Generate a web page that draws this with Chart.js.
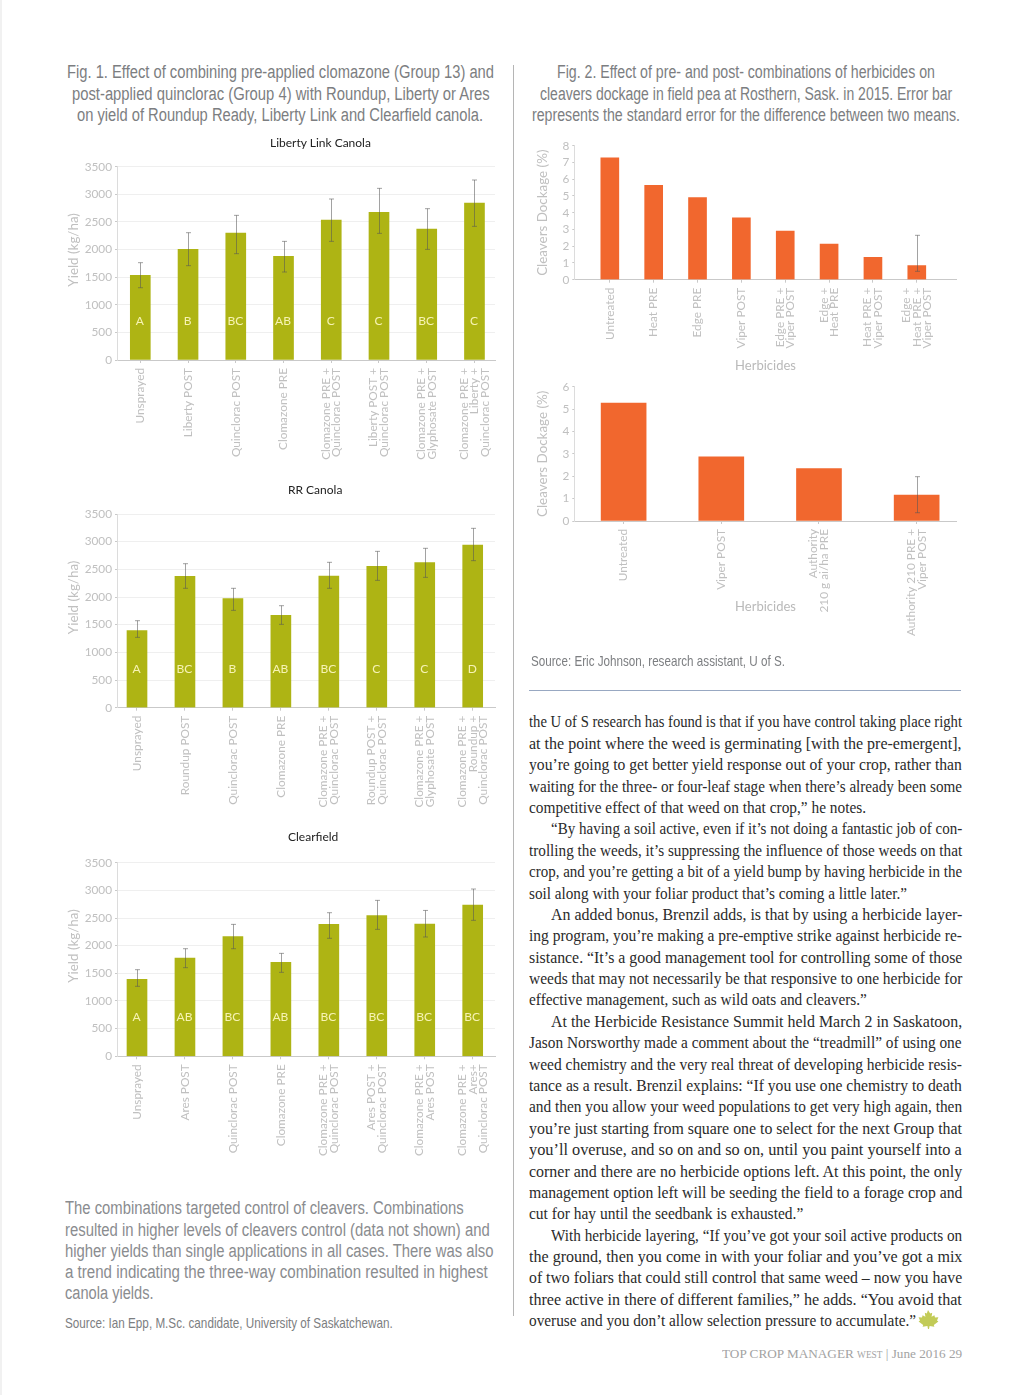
<!DOCTYPE html>
<html>
<head>
<meta charset="utf-8">
<title>Top Crop Manager West, June 2016, p. 29</title>
<script src="https://cdn.jsdelivr.net/npm/chart.js@4"></script>
<style>
  html, body { margin: 0; padding: 0; background: #fff; }
  #page { position: relative; width: 1024px; height: 1395px; overflow: hidden; border-left: 2px solid #f1f1f1; box-sizing: border-box; }
  #page canvas { position: absolute; }
  .line { position: absolute; white-space: nowrap; transform-origin: 0 50%; }
  .cap { font: 18px/22px "Liberation Sans Narrow", "Liberation Sans", sans-serif; color: #7c7e81; }
  .para { font: 18px/22px "Liberation Sans Narrow", "Liberation Sans", sans-serif; color: #8a8c8f; }
  .src { font: 14.5px/18px "Liberation Sans Narrow", "Liberation Sans", sans-serif; color: #7c7e81; }
  .body { font: 16.5px/20px "Liberation Serif", serif; color: #2a2a2a; }
  .foot { font: 13.5px/18px "Liberation Serif", serif; color: #a3a3a3; }
  .foot small { font-size: 9.5px; }
  .chartTitle { font: 12px/16px Lato, sans-serif; color: #222; }
  #vrule { position: absolute; left: 511px; top: 65px; width: 1px; height: 1251px; background: #b5b5b5; }
  #hrule { position: absolute; left: 527px; top: 690px; width: 432px; height: 1px; background: #98a8c2; }
  #leaf { position: absolute; left: 915px; top: 1310px; }
</style>
</head>
<body>
<div id="page">
  <div id="vrule"></div>
  <div id="hrule"></div>
  <svg id="leaf" width="22" height="20" viewBox="0 0 22 20"><path fill="#c2cb57" d="M11 0l2.2 3.6 2-.8-.6 4 2.800-1.600.6 2.200 3.400-.2-1.400 3.400 1.400 1-4.600 3.400.6 1.800-4.800-.8-.6 3h-1l-.6-3-4.800.8.6-1.800L1.600 11.600l1.400-1L1.600 7.200l3.400.2.6-2.200 2.800 1.600-.6-4 2 .8z"/></svg>

  <canvas id="chartLiberty" width="456" height="350" style="left:64px;top:130px"></canvas>
  <canvas id="chartRR" width="456" height="350" style="left:64px;top:477px"></canvas>
  <canvas id="chartClear" width="456" height="350" style="left:64px;top:826px"></canvas>
  <canvas id="chartDock1" width="445" height="250" style="left:533px;top:135px"></canvas>
  <canvas id="chartDock2" width="445" height="270" style="left:533px;top:376px"></canvas>
</div>

<script>
// Fig. 1 data, kg/ha
const libertyLabels = ['Unsprayed', 'Liberty POST', 'Quinclorac POST', 'Clomazone PRE', ['Clomazone PRE +', 'Quinclorac POST'], ['Liberty POST +', 'Quinclorac POST'], ['Clomazone PRE +', 'Glyphosate POST'], ['Clomazone PRE +', 'Liberty +', 'Quinclorac POST']];
const libertyYield = [1533, 2003, 2299, 1877, 2534, 2673, 2371, 2842];
const libertyHigh = [1762, 2305, 2619, 2148, 2915, 3108, 2740, 3259];
const libertyLow = [1309, 1708, 1925, 1593, 2148, 2293, 2003, 2420];
const libertyLetters = ['A', 'B', 'BC', 'AB', 'C', 'C', 'BC', 'C'];

const rrLabels = ['Unsprayed', 'Roundup POST', 'Quinclorac POST', 'Clomazone PRE', ['Clomazone PRE +', 'Quinclorac POST'], ['Roundup POST +', 'Quinclorac POST'], ['Clomazone PRE +', 'Glyphosate POST'], ['Clomazone PRE +', 'Roundup +', 'Quinclorac POST']];
const rrYield = [1392, 2373, 1970, 1669, 2380, 2554, 2620, 2940];
const rrHigh = [1572, 2602, 2157, 1843, 2627, 2825, 2880, 3241];
const rrLow = [1271, 2157, 1759, 1506, 2157, 2301, 2355, 2657];
const rrLetters = ['A', 'BC', 'B', 'AB', 'BC', 'C', 'C', 'D'];

const clearLabels = ['Unsprayed', 'Ares POST', 'Quinclorac POST', 'Clomazone PRE', ['Clomazone PRE +', 'Quinclorac POST'], ['Ares POST +', 'Quinclorac POST'], ['Clomazone PRE +', 'Ares POST'], ['Clomazone PRE +', 'Ares+', 'Quinclorac POST']];
const clearYield = [1392, 1777, 2163, 1699, 2385, 2542, 2391, 2735];
const clearHigh = [1566, 1945, 2385, 1861, 2596, 2819, 2637, 3024];
const clearLow = [1265, 1602, 1945, 1518, 2133, 2295, 2157, 2458];
const clearLetters = ['A', 'AB', 'BC', 'AB', 'BC', 'BC', 'BC', 'BC'];

// Fig. 2 data, % dockage
const dock1Labels = ['Untreated', 'Heat PRE', 'Edge PRE', 'Viper POST', ['Edge PRE +', 'Viper POST'], ['Edge +', 'Heat PRE'], ['Heat PRE +', 'Viper POST'], ['Edge +', 'Heat PRE +', 'Viper POST']];
const dock1Values = [7.28, 5.63, 4.91, 3.7, 2.9, 2.12, 1.33, 0.85];
const dock1High = [null, null, null, null, null, null, null, 2.65];
const dock1Low = [null, null, null, null, null, null, null, 0.5];

const dock2Labels = ['Untreated', 'Viper POST', ['Authority', '210 g ai/ha PRE'], ['Authority 210 PRE +', 'Viper POST']];
const dock2Values = [5.27, 2.87, 2.34, 1.16];
const dock2High = [null, null, null, 1.98];
const dock2Low = [null, null, null, 0.37];

const yieldTicks = [0, 500, 1000, 1500, 2000, 2500, 3000, 3500];
const dock1Ticks = [0, 1, 2, 3, 4, 5, 6, 7, 8];
const dock2Ticks = [0, 1, 2, 3, 4, 5, 6];

const chartTitles = [['Liberty Link Canola', 270, 143], ['RR Canola', 288, 490], ['Clearfield', 288, 837]];

// [class, text, left, right, y centre]
const captionLines = [
  ['cap', 'Fig. 1. Effect of combining pre-applied clomazone (Group 13) and', 66.5, 493.5, 72],
  ['cap', 'post-applied quinclorac (Group 4) with Roundup, Liberty or Ares', 71.5, 489, 93.5],
  ['cap', 'on yield of Roundup Ready, Liberty Link and Clearfield canola.', 77, 483, 115],
  ['cap', 'Fig. 2. Effect of pre- and post- combinations of herbicides on', 557, 935, 72],
  ['cap', 'cleavers dockage in field pea at Rosthern, Sask. in 2015. Error bar', 540, 952, 93.5],
  ['cap', 'represents the standard error for the difference between two means.', 532, 960, 115],
  ['src', 'Source: Eric Johnson, research assistant, U of S.', 531, 785, 661],
  ['para', 'The combinations targeted control of cleavers. Combinations', 64.5, 463, 1208],
  ['para', 'resulted in higher levels of cleavers control (data not shown) and', 64.5, 489, 1229.5],
  ['para', 'higher yields than single applications in all cases. There was also', 64.5, 493, 1251],
  ['para', 'a trend indicating the three-way combination resulted in highest', 64.5, 487, 1272],
  ['para', 'canola yields.', 64.5, 153, 1293],
  ['src', 'Source: Ian Epp, M.Sc. candidate, University of Saskatchewan.', 64.5, 392, 1323],
  ['foot', 'TOP CROP MANAGER <small>WEST</small> | June 2016 29', 722, 962, 1354]
];

const bodyLines = [
  ['the U of S research has found is that if you have control taking place right', 529, 962, 722],
  ['at the point where the weed is germinating [with the pre-emergent],', 529, 962, 744],
  ['you\u2019re going to get better yield response out of your crop, rather than', 529, 962, 765],
  ['waiting for the three- or four-leaf stage when there\u2019s already been some', 529, 962, 786.5],
  ['competitive effect of that weed on that crop,\u201d he notes.', 529, 866, 808],
  ['\u201cBy having a soil active, even if it\u2019s not doing a fantastic job of con-', 551, 962, 829],
  ['trolling the weeds, it\u2019s suppressing the influence of those weeds on that', 529, 962, 850.5],
  ['crop, and you\u2019re getting a bit of a yield bump by having herbicide in the', 529, 962, 872],
  ['soil along with your foliar product that\u2019s coming a little later.\u201d', 529, 907, 893.5],
  ['An added bonus, Brenzil adds, is that by using a herbicide layer-', 551, 962, 915],
  ['ing program, you\u2019re making a pre-emptive strike against herbicide re-', 529, 962, 936],
  ['sistance. \u201cIt\u2019s a good management tool for controlling some of those', 529, 962, 957.5],
  ['weeds that may not necessarily be that responsive to one herbicide for', 529, 962, 979],
  ['effective management, such as wild oats and cleavers.\u201d', 529, 867, 1000],
  ['At the Herbicide Resistance Summit held March 2 in Saskatoon,', 551, 962, 1022],
  ['Jason Norsworthy made a comment about the \u201ctreadmill\u201d of using one', 529, 962, 1043],
  ['weed chemistry and the very real threat of developing herbicide resis-', 529, 962, 1064.5],
  ['tance as a result. Brenzil explains: \u201cIf you use one chemistry to death', 529, 962, 1086],
  ['and then you allow your weed populations to get very high again, then', 529, 962, 1107],
  ['you\u2019re just starting from square one to select for the next Group that', 529, 962, 1129],
  ['you\u2019ll overuse, and so on and so on, until you paint yourself into a', 529, 962, 1150],
  ['corner and there are no herbicide options left. At this point, the only', 529, 962, 1171.5],
  ['management option left will be seeding the field to a forage crop and', 529, 962, 1193],
  ['cut for hay until the seedbank is exhausted.\u201d', 529, 803, 1214],
  ['With herbicide layering, \u201cIf you\u2019ve got your soil active products on', 551, 962, 1235.5],
  ['the ground, then you come in with your foliar and you\u2019ve got a mix', 529, 962, 1257],
  ['of two foliars that could still control that same weed \u2013 now you have', 529, 962, 1278],
  ['three active in there of different families,\u201d he adds. \u201cYou avoid that', 529, 962, 1300],
  ['overuse and you don\u2019t allow selection pressure to accumulate.\u201d', 529, 916, 1321]
];

const page = document.getElementById('page');

// every printed line gets squeezed to the width it has on the page
function placeLine(cls, text, left, right, y) {
  const el = document.createElement('div');
  el.className = 'line ' + cls;
  el.innerHTML = text;
  page.appendChild(el);
  const lineH = parseFloat(getComputedStyle(el).lineHeight);
  el.style.left = (left - 2) + 'px'; // page has a 2px border
  el.style.top = (y - lineH / 2) + 'px';
  el.style.transform = 'scaleX(' + ((right - left) / el.offsetWidth) + ')';
}

captionLines.forEach(l => placeLine(l[0], l[1], l[2], l[3], l[4]));
bodyLines.forEach(l => placeLine('body', l[0], l[1], l[2], l[3]));

chartTitles.forEach(t => {
  const el = document.createElement('div');
  el.className = 'line chartTitle';
  el.textContent = t[0];
  page.appendChild(el);
  el.style.left = (t[1] - 2) + 'px';
  el.style.top = (t[2] - 8) + 'px';
});

const LABEL_FONT = 'Lato, sans-serif';
const LABEL_COLOR = '#c0c0c0';
const TICK_LINE = 10.6;

// whiskers, letters and centring of the multi-line tick labels
const barExtras = {
  id: 'barExtras',
  beforeDraw(chart) {
    // chart.js starts a multi-line rotated label at the tick, the figure centres it
    chart.scales.x.getLabelItems().forEach(item => {
      if (Array.isArray(item.label) && !item.centred) {
        item.options.translation[0] -= (item.label.length - 1) * TICK_LINE / 2;
        item.centred = true;
      }
    });
  },
  afterDatasetsDraw(chart, args, opts) {
    const ctx = chart.ctx, x = chart.scales.x, y = chart.scales.y;
    ctx.save();
    ctx.strokeStyle = 'rgba(85,85,85,0.55)';
    ctx.lineWidth = 1;
    (opts.high || []).forEach((hi, i) => {
      if (hi == null) return;
      const px = Math.round(x.getPixelForValue(i)) + 0.5;
      const top = y.getPixelForValue(hi), bot = y.getPixelForValue(opts.low[i]);
      ctx.beginPath();
      ctx.moveTo(px, top); ctx.lineTo(px, bot);
      ctx.moveTo(px - 2.5, top); ctx.lineTo(px + 2.5, top);
      ctx.moveTo(px - 2.5, bot); ctx.lineTo(px + 2.5, bot);
      ctx.stroke();
    });
    ctx.fillStyle = '#f7f3b4';
    ctx.font = '12px ' + LABEL_FONT;
    ctx.textAlign = 'center';
    ctx.textBaseline = 'middle';
    (opts.letters || []).forEach((s, i) => {
      ctx.fillText(s, x.getPixelForValue(i) - 0.5, y.getPixelForValue(700));
    });
    ctx.restore();
  }
};

function makeChart(id, c) {
  const canvas = document.getElementById(id);
  const box = canvas.getBoundingClientRect();
  new Chart(canvas, {
    type: 'bar',
    data: {
      datasets: [{
        data: c.values.map((v, i) => ({ x: i, y: v })),
        backgroundColor: c.color,
        barThickness: c.barWidth,
        borderWidth: 0
      }]
    },
    plugins: [barExtras],
    options: {
      responsive: false,
      animation: false,
      layout: { padding: { top: c.top - box.top, right: box.right - c.right, bottom: box.bottom - c.bottom - c.xHeight, left: 0 } },
      plugins: {
        legend: { display: false },
        tooltip: { enabled: false },
        barExtras: { high: c.high, low: c.low, letters: c.letters }
      },
      scales: {
        x: {
          type: 'linear',
          offset: false,
          bounds: 'data',
          min: c.xMin,
          max: c.xMax,
          afterBuildTicks: s => { s.ticks = c.labels.map((_, i) => ({ value: i })); },
          afterFit: s => { s.height = c.xHeight; },
          border: { color: '#c9c9c9' },
          grid: { offset: false, drawOnChartArea: false, tickLength: 3, tickColor: '#c9c9c9' },
          ticks: {
            autoSkip: false,
            minRotation: 90,
            maxRotation: 90,
            padding: 5,
            color: LABEL_COLOR,
            font: { family: LABEL_FONT, size: 11.8, lineHeight: TICK_LINE + 'px' },
            callback: v => c.labels[v]
          },
          title: c.xTitle ? { display: true, text: c.xTitle, color: '#b9b9b9', padding: { top: 4, bottom: c.xTitlePad }, font: { family: LABEL_FONT, size: 13 } } : { display: false }
        },
        y: {
          min: c.yTicks[0],
          max: c.yTicks[c.yTicks.length - 1],
          afterBuildTicks: s => { s.ticks = c.yTicks.map(v => ({ value: v })); },
          afterFit: s => { s.width = c.left - box.left; },
          border: { color: '#dcdcdc' },
          grid: {
            display: true,
            drawOnChartArea: c.gridLines,
            color: ctx => (ctx.tick && ctx.tick.value === 0 ? '#c9c9c9' : '#efefef'),
            tickLength: 2,
            tickColor: '#c9c9c9'
          },
          ticks: {
            autoSkip: false,
            padding: 3,
            color: LABEL_COLOR,
            font: { family: LABEL_FONT, size: 11.8 },
            callback: v => String(v)
          },
          title: { display: true, text: c.yTitle, color: '#c0c0c0', padding: { top: 0, bottom: 0 }, font: { family: LABEL_FONT, size: 13.4 } }
        }
      }
    }
  });
}

const OLIVE = '#aeb414';
const ORANGE = '#f1672e';
// leading spaces lift the title off the axis centre, where the figure has it
const YIELD_TITLE = '\u00a0'.repeat(8) + 'Yield (kg/ha)';

makeChart('chartLiberty', {
  labels: libertyLabels, values: libertyYield, high: libertyHigh, low: libertyLow, letters: libertyLetters,
  color: OLIVE, barWidth: 20, yTicks: yieldTicks, yTitle: YIELD_TITLE, gridLines: true,
  left: 117, right: 495, top: 166.7, bottom: 360, xHeight: 112, xMin: -0.488, xMax: 7.43
});
makeChart('chartRR', {
  labels: rrLabels, values: rrYield, high: rrHigh, low: rrLow, letters: rrLetters,
  color: OLIVE, barWidth: 20, yTicks: yieldTicks, yTitle: YIELD_TITLE, gridLines: true,
  left: 117, right: 495, top: 514, bottom: 707.7, xHeight: 112, xMin: -0.417, xMax: 7.465
});
makeChart('chartClear', {
  labels: clearLabels, values: clearYield, high: clearHigh, low: clearLow, letters: clearLetters,
  color: OLIVE, barWidth: 20, yTicks: yieldTicks, yTitle: YIELD_TITLE, gridLines: true,
  left: 117, right: 495, top: 862.7, bottom: 1056.3, xHeight: 112, xMin: -0.417, xMax: 7.465
});
makeChart('chartDock1', {
  labels: dock1Labels, values: dock1Values, high: dock1High, low: dock1Low,
  color: ORANGE, barWidth: 18, yTicks: dock1Ticks, yTitle: 'Cleavers Dockage (%)', gridLines: false,
  left: 574.3, right: 956.7, top: 145.7, bottom: 279.7, xHeight: 98, xTitle: 'Herbicides', xTitlePad: 4, xMin: -0.81, xMax: 7.91
});
makeChart('chartDock2', {
  labels: dock2Labels, values: dock2Values, high: dock2High, low: dock2Low,
  color: ORANGE, barWidth: 45, yTicks: dock2Ticks, yTitle: 'Cleavers Dockage (%)', gridLines: false,
  left: 574.3, right: 956.7, top: 386.7, bottom: 521, xHeight: 120, xTitle: 'Herbicides', xTitlePad: 26, xMin: -0.505, xMax: 3.41
});
</script>
</body>
</html>
